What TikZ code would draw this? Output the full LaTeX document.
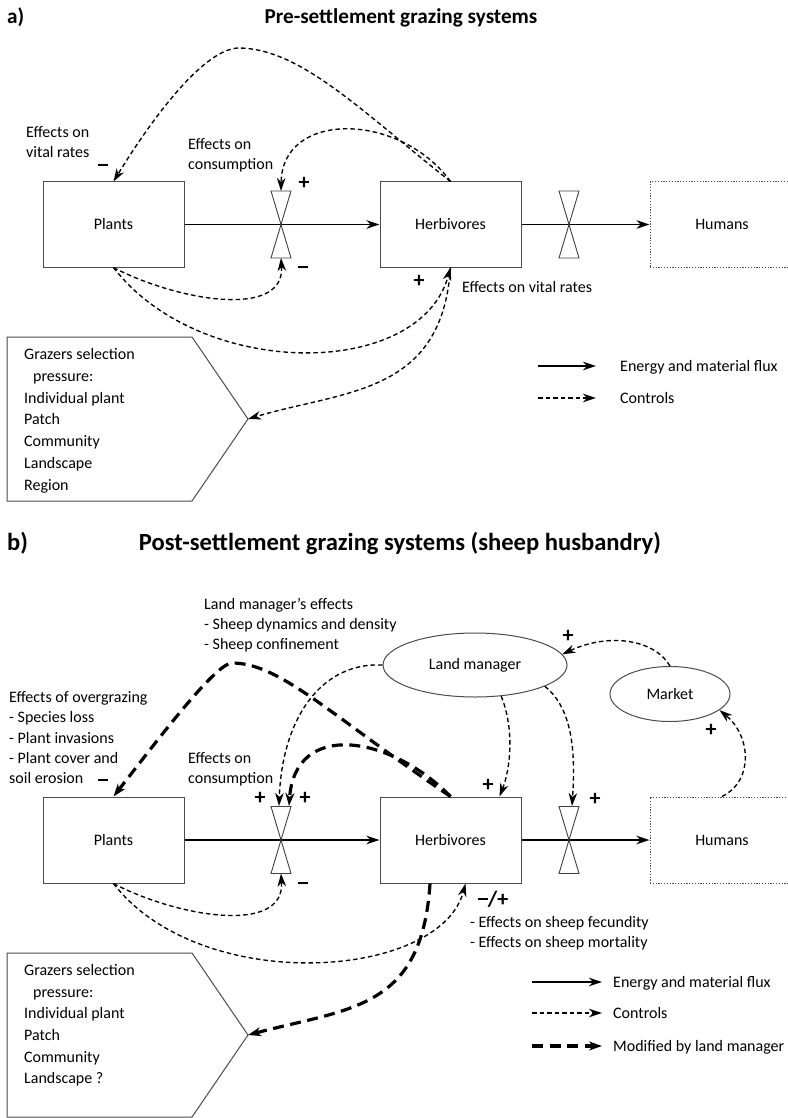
\documentclass[tikz,border=0pt]{standalone}
\usepackage{fontspec}
\setmainfont{Carlito}
\usetikzlibrary{arrows.meta,shapes.geometric}
\newcommand\lblfont{\fontsize{16}{20}\selectfont}
\newcommand\sgnfont{\fontsize{22}{24}\selectfont\bfseries}
\newcommand\ttlfont{\fontsize{21.2}{24}\selectfont\bfseries}
\newcommand\ttlbfont{\fontsize{24.6}{28}\selectfont\bfseries}
\newcommand\mns{\rule{10pt}{2.6pt}}
\newcommand\drawvalve[3]{%
  \coordinate (#1) at (#2,#3);
  \coordinate (#1t) at (#2,#3-33.5);
  \coordinate (#1b) at (#2,#3+33.5);
  \draw[valve] (#2-10,#3-33.5) -- (#2+10,#3-33.5) -- (#1) -- cycle;
  \draw[valve] (#2-10,#3+33.5) -- (#2+10,#3+33.5) -- (#1) -- cycle;
}
\tikzset{
 box/.style={draw=black!70, line width=1pt, minimum width=141pt, minimum height=85pt, inner sep=0pt, font=\lblfont},
 hbox/.style={box, dash pattern=on 1.2pt off 1.6pt, minimum width=144pt},
 ell/.style={ellipse, draw=black!70, line width=1pt, inner sep=0pt, font=\lblfont},
 lbl/.style={anchor=base west, inner sep=0pt, font=\lblfont},
 sgn/.style={inner sep=0pt, font=\sgnfont},
 arrowhd/.style={-{Stealth[length=13pt,width=8.5pt,inset=4pt]}},
 flux/.style={arrowhd, line width=1.5pt},
 ctrl/.style={arrowhd, line width=1.35pt, dash pattern=on 4.5pt off 3pt},
 modd/.style={-{Stealth[length=13pt,width=9pt,inset=4pt]}, line width=3.2pt, dash pattern=on 11pt off 6.5pt},
 valve/.style={draw=black!75, line width=0.9pt},
 gbox/.style={draw=black!70, line width=1pt},
}
\begin{document}
\begin{tikzpicture}[x=1pt,y=-1pt]
\path[fill=white, use as bounding box] (0,0) rectangle (787,1118);

%================ panel a
\node[anchor=base west, inner sep=0pt, font=\ttlfont] (la) at (7,24) {a)};
\node[anchor=base, inner sep=0pt, font=\ttlfont] (ta) at (401,24) {Pre-settlement grazing systems};

\node[box] (plA) at (113.5,224.5) {Plants};
\node[box] (hbA) at (450.5,224.5) {Herbivores};
\node[hbox] (huA) at (722,224.5) {Humans};

\draw[flux] (plA) -- (hbA);
\draw[flux] (hbA) -- (huA);
\drawvalve{vA}{281}{224.5}
\drawvalve{wA}{569}{224.5}

% controls
\draw[ctrl] (hbA.north) .. controls (360,110) and (300,48) .. (238,48)
            .. controls (200,50) and (145,130) .. (plA.north);
\draw[ctrl] (hbA.north) .. controls (400,112) and (282,110) .. (vAt);
\draw[ctrl] (plA.south) .. controls (175,300) and (285,320) .. (vAb);
\draw[ctrl] (plA.south) .. controls (200,380) and (420,380) .. (hbA.south);
\coordinate (gAt) at (248,419);
\draw[ctrl] (hbA.south) .. controls (442,395) and (345,390) .. (gAt);

% labels
\foreach \s [count=\i] in {Effects on,vital rates}
  \node[lbl] (evA\i) at (26,{137.5+20*(\i-1)}) {\s};
\foreach \s [count=\i] in {Effects on,consumption}
  \node[lbl] (ecA\i) at (188,{149.5+20*(\i-1)}) {\s};
\node[lbl] (ehA) at (462,292.5) {Effects on vital rates};
\node[sgn] (sA1) at (103,165) {\mns};
\node[sgn] (sA2) at (304,183) {+};
\node[sgn] (sA3) at (303,267) {\mns};
\node[sgn] (sA4) at (419,281) {+};

% grazers box
\draw[gbox] (7,337) -- (192,337) -- (gAt) -- (192,501) -- (7,501) -- cycle;
\node[lbl] (gA1) at (24,359.5) {Grazers selection};
\node[lbl] (gA2) at (33,381.5) {pressure:};
\node[lbl] (gA3) at (24,403.5) {Individual plant};
\node[lbl] (gA4) at (24,424.5) {Patch};
\node[lbl] (gA5) at (24,446.5) {Community};
\node[lbl] (gA6) at (24,468.5) {Landscape};
\node[lbl] (gA7) at (24,490.5) {Region};

% legend a
\coordinate (lA1s) at (538,366); \coordinate (lA1e) at (596,366);
\coordinate (lA2s) at (538,398); \coordinate (lA2e) at (596,398);
\draw[flux] (lA1s) -- (lA1e);
\draw[ctrl] (lA2s) -- (lA2e);
\node[lbl] (lA1) at (620,371.5) {Energy and material flux};
\node[lbl] (lA2) at (620,403.5) {Controls};

%================ panel b
\node[anchor=base west, inner sep=0pt, font=\ttlbfont] (lb) at (7,550) {b)};
\node[anchor=base, inner sep=0pt, font=\ttlbfont] (tb) at (400,550) {Post-settlement grazing systems (sheep husbandry)};

\node[box, minimum height=86pt] (plB) at (113.5,840) {Plants};
\node[box, minimum height=86pt] (hbB) at (450.5,840) {Herbivores};
\node[hbox, minimum height=86pt] (huB) at (722,840) {Humans};
\node[ell, minimum width=184pt, minimum height=64pt] (lmB) at (475,665) {Land manager};
\node[ell, minimum width=120pt, minimum height=55pt] (mkB) at (670,694) {Market};

\draw[flux] (plB) -- (hbB);
\draw[flux] (hbB) -- (huB);
\drawvalve{vB}{281}{840}
\drawvalve{wB}{569}{840}

\coordinate (vBtl) at (279,806);
\coordinate (vBtr) at (289,806);
\coordinate (wBt) at (572,806);

% thin controls
\draw[ctrl] (lmB.west) .. controls (320,662) and (282,720) .. (vBtl);
\draw[ctrl] (lmB.-50) .. controls (515,730) and (510,770) .. ([xshift=-22pt]hbB.north east);
\draw[ctrl] (lmB.-17) .. controls (575,710) and (575,760) .. (wBt);
\draw[ctrl] (mkB.north) .. controls (655,640) and (610,632) .. (lmB.7);
\draw[ctrl] (huB.north) .. controls (755,780) and (750,735) .. (mkB.-18);
\draw[ctrl] (plB.south) .. controls (175,916) and (285,936) .. (vBb);
\draw[ctrl] (plB.south) .. controls (200,996) and (440,980) .. ([xshift=15pt]hbB.south);

% thick (modified by land manager)
\draw[modd] (hbB.north) .. controls (330,715) and (280,663) .. (232,663)
            .. controls (215,663) and (150,750) .. (plB.north);
\draw[modd] (hbB.north) .. controls (390,735) and (295,720) .. (vBtr);
\coordinate (gBt) at (248,1035);
\draw[modd] ([xshift=-20.5pt]hbB.south) .. controls (422,1010) and (350,1008) .. (gBt);

% labels b
\foreach \s [count=\i] in {Land manager’s effects,- Sheep dynamics and density,- Sheep confinement}
  \node[lbl] (lmE\i) at (204,{609.5+20*(\i-1)}) {\s};
\foreach \s [count=\i] in {Effects of overgrazing,- Species loss,- Plant invasions,- Plant cover and,soil erosion}
  \node[lbl] (eoB\i) at (9,{702.5+20.25*(\i-1)}) {\s};
\foreach \s [count=\i] in {Effects on,consumption}
  \node[lbl] (ecB\i) at (188,{763.5+20*(\i-1)}) {\s};
\foreach \s [count=\i] in {- Effects on sheep fecundity,- Effects on sheep mortality}
  \node[lbl] (esB\i) at (470,{927.5+20*(\i-1)}) {\s};

\node[sgn] (sB1) at (103,780) {\mns};
\node[sgn] (sB2) at (260,798) {+};
\node[sgn] (sB3) at (305,798) {+};
\node[sgn] (sB4) at (303,883) {\mns};
\node[sgn] (sB5) at (488,785) {+};
\node[sgn] (sB6) at (595,799) {+};
\node[sgn] (sB7) at (568,636) {+};
\node[sgn] (sB8) at (711,730) {+};
\node[sgn] (sB9) at (493,899) {\raisebox{6pt}{\mns}/+};

% grazers box b
\draw[gbox] (7,953) -- (192,953) -- (gBt) -- (192,1117) -- (7,1117) -- cycle;
\node[lbl] (gB1) at (24,975.5) {Grazers selection};
\node[lbl] (gB2) at (33,997.5) {pressure:};
\node[lbl] (gB3) at (24,1018.5) {Individual plant};
\node[lbl] (gB4) at (24,1040.5) {Patch};
\node[lbl] (gB5) at (24,1062.5) {Community};
\node[lbl] (gB6) at (24,1083.5) {Landscape ?};

% legend b
\coordinate (lB1s) at (532,982); \coordinate (lB1e) at (602,982);
\coordinate (lB2s) at (532,1013); \coordinate (lB2e) at (602,1013);
\coordinate (lB3s) at (532,1046); \coordinate (lB3e) at (602,1046);
\draw[flux] (lB1s) -- (lB1e);
\draw[ctrl] (lB2s) -- (lB2e);
\draw[modd] (lB3s) -- (lB3e);
\node[lbl] (lB1) at (613,987.5) {Energy and material flux};
\node[lbl] (lB2) at (613,1018.5) {Controls};
\node[lbl] (lB3) at (613,1051.5) {Modified by land manager};
\end{tikzpicture}
\end{document}
